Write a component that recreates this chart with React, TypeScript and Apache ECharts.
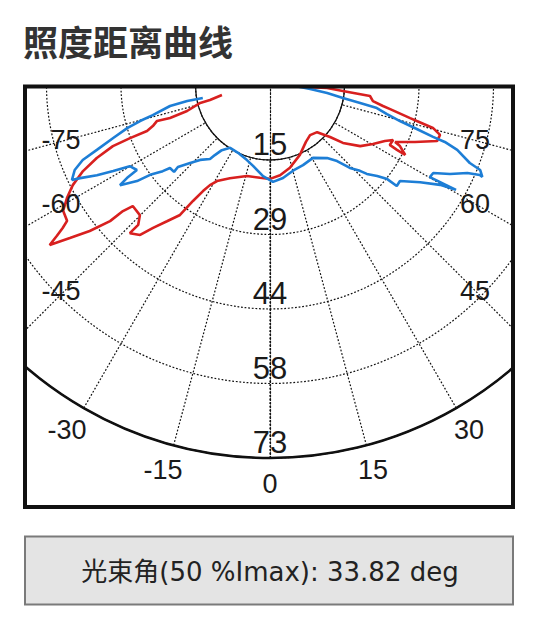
import React, { useEffect, useRef } from 'react';
import * as echarts from 'echarts';

// angles in degrees (0 = straight down, negative = left), radii in axis units
const redAngle = [
  -78.8, -76.4, -76.0, -72.9, -72.0, -72.6, -70.9, -69.7, -69.4, -68.9, -67.3, -65.4, -63.2, -61.0,
  -58.8, -56.3, -55.5, -54.8, -54.1, -52.7, -51.1, -49.7, -49.5, -48.7, -45.1, -43.4, -43.5, -41.0,
  -39.4, -37.2, -34.8, -33.7, -32.4, -31.1, -29.0, -23.4, -14.3, -6.2, 0, 6.4, 13.6, 23.3, 32.5,
  38.9, 45.3, 49.4, 51.8, 56.1, 60.4, 64.2, 66.1, 63.6, 63.1, 62.8, 65.0, 65.7, 68.7, 71.6, 73.8,
  75.4, 76.4, 76.9, 78.9, 79.7, 81.4, 84.0, 85.7, 87.5, 87.5, 97,
];
const redRadius = [
  9.6, 12.1, 14.1, 17.0, 20.6, 23.2, 24.3, 25.7, 29.3, 33.0, 36.8, 40.3, 43.3, 45.5, 47.4, 47.8,
  49.3, 51.1, 53.3, 49.3, 45.4, 41.1, 37.9, 35.8, 36.0, 37.6, 39.9, 38.8, 36.1, 33.4, 30.9, 27.2,
  24.5, 22.8, 21.4, 19.8, 18.3, 18.2, 18.3, 17.7, 16.6, 14.8, 13.1, 12.5, 13.0, 15.5, 18.2, 21.3,
  23.2, 25.0, 26.4, 26.2, 27.9, 29.8, 28.1, 26.9, 30.5, 34.5, 34.7, 33.0, 29.6, 28.2, 24.0, 22.5,
  20.4, 19.7, 14.3, 11.2, 6.9, 3.9,
];
const blueAngle = [
  -79.4, -79.4, -78.4, -75.8, -74.7, -73.4, -71.5, -69.6, -68.3, -66.6, -64.5, -64.0, -62.6, -61.4,
  -60.1, -57.6, -57.1, -56.4, -54.3, -53.3, -51.4, -50.5, -48.0, -48.5, -45.9, -43.2, -39.2, -38.4,
  -36.7, -32.6, -25.4, -17.2, -11.9, -4.4, 1.8, 8.0, 15.1, 22.5, 30.7, 38.2, 41.6, 44.1, 46.5, 47.6,
  49.8, 51.4, 51.6, 53.7, 57.2, 59.7, 60.7, 60.2, 61.8, 63.8, 66.1, 66.9, 66.7, 68.1, 68.8, 71.0,
  72.1, 72.5, 73.5, 74.7, 76.3, 78.1, 79.0, 80.3, 82.5, 85.0, 88.9, 96,
];
const blueRadius = [
  13.4, 16.5, 20.0, 23.7, 26.4, 29.2, 32.4, 36.2, 39.5, 41.7, 43.0, 41.4, 38.2, 35.0, 31.7, 30.9,
  33.4, 35.3, 32.1, 29.3, 26.9, 25.4, 25.3, 24.1, 21.8, 20.0, 18.6, 17.4, 15.8, 14.5, 14.6, 15.3,
  16.1, 17.8, 18.9, 18.3, 17.3, 16.9, 16.5, 18.1, 19.8, 22.5, 24.3, 25.7, 27.5, 29.4, 31.7, 31.6,
  35.0, 38.6, 41.8, 36.1, 36.3, 39.3, 42.3, 44.7, 45.3, 44.4, 42.0, 38.8, 36.0, 33.5, 30.0, 26.4,
  23.6, 21.4, 18.0, 14.5, 11.3, 7.9, 4.9, 3.0,
];
const angleTicks = [-75, -60, -45, -30, -15, 0, 15, 30, 45, 60, 75];
const radiusMax = 73;
const radiusStep = 14.6;
const titleText = '照度距离曲线';
const beamText = '光束角(50 %Imax): 33.82 deg';

const CX = 270;
const CY = 85.5;
const R = 372.5;
const LATIN = '"Liberation Sans", Arial, "Noto Sans CJK SC", sans-serif';

const toAxisAngle = (a: number) => (a < 0 ? a + 360 : a);
const pairs = (angles: number[], radii: number[]) =>
  angles.map((a, i) => [radii[i], toAxisAngle(a)]);

export default function App() {
  const chartRef = useRef<HTMLDivElement>(null);

  useEffect(() => {
    if (!chartRef.current) return;
    const chart = echarts.init(chartRef.current, null, { renderer: 'svg' });

    const dotted = { color: '#111', width: 1.2, type: [1.8, 1.8] as any };

    const angleLabels = angleTicks.map((a) => {
      const rad = (a * Math.PI) / 180;
      const s = Math.abs(Math.sin(rad));
      const r = s > 0 ? Math.min(398, 205 / s) : 398;
      return {
        type: 'text',
        z: 110,
        x: CX + r * Math.sin(rad) - (a < 0 ? 4 : 0),
        y: CY + r * Math.cos(rad),
        style: {
          text: String(a),
          fontSize: 27,
          fontFamily: LATIN,
          fill: '#1a1a1a',
          align: 'center',
          verticalAlign: 'middle',
        },
      };
    });

    const option = {
      animation: false,
      backgroundColor: '#fff',
      polar: [
        { center: [CX, CY], radius: R },
        { center: [CX, CY], radius: [R / 5, R] },
      ],
      angleAxis: [
        {
          polarIndex: 0,
          type: 'value',
          min: 0,
          max: 360,
          interval: 15,
          startAngle: 270,
          clockwise: false,
          axisLine: { show: true, lineStyle: { color: '#111', width: 2.6 } },
          axisTick: { show: false },
          axisLabel: { show: false },
          splitLine: { show: false },
        },
        {
          polarIndex: 1,
          type: 'value',
          min: 0,
          max: 360,
          interval: 15,
          startAngle: 270,
          clockwise: false,
          axisLine: { show: true, lineStyle: { color: '#111', width: 1.3 } },
          axisTick: { show: false },
          axisLabel: { show: false },
          splitLine: { show: true, lineStyle: dotted },
        },
      ],
      radiusAxis: [
        {
          polarIndex: 0,
          type: 'value',
          min: 0,
          max: radiusMax,
          interval: radiusStep,
          axisLine: { show: true, lineStyle: dotted },
          axisTick: { show: false },
          splitLine: { show: true, lineStyle: dotted },
          axisLabel: {
            show: true,
            margin: 0,
            align: 'center',
            verticalAlign: 'bottom',
            lineHeight: 31,
            fontSize: 31,
            fontFamily: LATIN,
            color: '#1a1a1a',
            showMinLabel: false,
            formatter: (v: number) => (v === 0 ? '' : String(Math.round(v))),
          },
        },
        {
          polarIndex: 1,
          type: 'value',
          min: 0,
          max: radiusMax,
          axisLine: { show: false },
          axisTick: { show: false },
          axisLabel: { show: false },
          splitLine: { show: false },
        },
      ],
      series: [
        {
          name: 'red',
          type: 'line',
          coordinateSystem: 'polar',
          polarIndex: 0,
          data: pairs(redAngle, redRadius),
          symbol: 'none',
          lineStyle: { color: '#d8201f', width: 2.6 },
          z: 5,
        },
        {
          name: 'blue',
          type: 'line',
          coordinateSystem: 'polar',
          polarIndex: 0,
          data: pairs(blueAngle, blueRadius),
          symbol: 'none',
          lineStyle: { color: '#1d7ed6', width: 2.6 },
          z: 6,
        },
      ],
      graphic: [
        { type: 'rect', z: 100, silent: true, shape: { x: 0, y: 0, width: 538, height: 86 }, style: { fill: '#fff' } },
        { type: 'rect', z: 100, silent: true, shape: { x: 0, y: 0, width: 25, height: 617 }, style: { fill: '#fff' } },
        { type: 'rect', z: 100, silent: true, shape: { x: 513, y: 0, width: 25, height: 617 }, style: { fill: '#fff' } },
        {
          type: 'rect',
          z: 101,
          shape: { x: 25, y: 86.5, width: 488, height: 420.5 },
          style: { fill: 'rgba(0,0,0,0)', stroke: '#111', lineWidth: 4 },
        },
        {
          type: 'text',
          z: 110,
          x: 23,
          y: 40,
          style: {
            text: titleText,
            fontSize: 35,
            fontWeight: 'bold',
            fontFamily: '"Noto Sans CJK SC", sans-serif',
            fill: '#333',
            align: 'left',
            verticalAlign: 'middle',
          },
        },
        ...angleLabels,
        {
          type: 'rect',
          z: 101,
          shape: { x: 25, y: 536.5, width: 488, height: 68 },
          style: { fill: '#e4e4e4', stroke: '#7a7a7a', lineWidth: 2 },
        },
        {
          type: 'text',
          z: 110,
          x: 270,
          y: 572,
          style: {
            text: beamText,
            fontSize: 26,
            fontFamily: '"DejaVu Sans", "Noto Sans CJK SC", sans-serif',
            fill: '#222',
            align: 'center',
            verticalAlign: 'middle',
          },
        },
      ],
    };

    chart.setOption(option as any);
    return () => chart.dispose();
  }, []);

  return (
    <div
      ref={chartRef}
      style={{ position: 'absolute', left: 0, top: 0, width: 538, height: 617 }}
    />
  );
}
